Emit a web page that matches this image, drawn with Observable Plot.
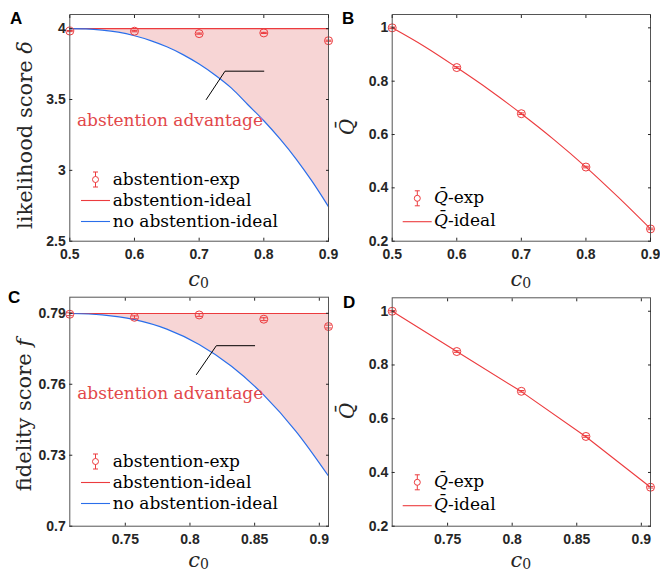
<!DOCTYPE html>
<html><head><meta charset="utf-8">
<script src="https://cdn.jsdelivr.net/npm/d3@7"></script>
<script src="https://cdn.jsdelivr.net/npm/@observablehq/plot@0.6"></script>
<style>
html,body{margin:0;padding:0;background:#fff;}
#root{position:relative;width:660px;height:573px;overflow:hidden;background:#fff;}
.panel{position:absolute;}
#overlay{position:absolute;left:0;top:0;pointer-events:none;}
</style></head><body><div id="root"></div>
<script>
// ---------- data ----------
// Panel A: likelihood score
const c0A = [0.5, 0.6, 0.7, 0.8, 0.9];
const deltaExp = [3.983, 3.982, 3.965, 3.970, 3.915];
const deltaErr = [0.004, 0.004, 0.004, 0.004, 0.004];
const deltaIdeal = 4.0;
const deltaCurveX = [0.5, 0.525, 0.55, 0.575, 0.6, 0.625, 0.65, 0.675, 0.7, 0.725, 0.75, 0.775, 0.8, 0.825, 0.85, 0.875, 0.9];
const deltaNoAbst = [4.0, 3.998, 3.99, 3.975, 3.95, 3.916, 3.872, 3.817, 3.75, 3.671, 3.58, 3.465, 3.35, 3.222, 3.08, 2.92, 2.744];
const annotAX = [0.711, 0.74, 0.8];
const annotAY = [3.5, 3.7, 3.7];
const advLabelA = {x: 0.511, y: 3.354};

// Panel B: Q-bar vs c0
const c0B = [0.5, 0.6, 0.7, 0.8, 0.9];
const qExpB = [1.0, 0.851, 0.678, 0.478, 0.246];
const qErrB = [0.003, 0.003, 0.003, 0.003, 0.003];
const qCurveXB = [0.5, 0.55, 0.6, 0.65, 0.7, 0.75, 0.8, 0.85, 0.9];
const qIdealB = [1.0, 0.93, 0.851, 0.768, 0.678, 0.582, 0.478, 0.365, 0.246];

// Panel C: fidelity score
const c0C = [0.7071, 0.7571, 0.8071, 0.8571, 0.9071];
const fidExp = [0.7896, 0.7883, 0.7893, 0.7875, 0.7844];
const fidErr = [0.0006, 0.0006, 0.0006, 0.0006, 0.0006];
const fidIdeal = 0.7899;
const fidCurveX = [0.7071, 0.7321, 0.7571, 0.7821, 0.8071, 0.8321, 0.8571, 0.8821, 0.9071];
const fidNoAbst = [0.7899, 0.7893, 0.7873, 0.7833, 0.7768, 0.7676, 0.7554, 0.740, 0.7212];
const annotCX = [0.805, 0.8204, 0.85];
const annotCY = [0.7641, 0.7763, 0.7763];
const advLabelC = {x: 0.7128, y: 0.7562};

// Panel D: Q-bar vs c0
const c0D = [0.7071, 0.7571, 0.8071, 0.8571, 0.9071];
const qExpD = [1.0, 0.85, 0.702, 0.534, 0.345];
const qErrD = [0.003, 0.003, 0.003, 0.003, 0.003];
const qIdealD = [1.0, 0.85, 0.701, 0.533, 0.345];

// ticks
const xTicksTop = [0.5, 0.6, 0.7, 0.8, 0.9];
const xTicksBottom = [0.75, 0.8, 0.85, 0.9];
const yTicksA = [2.5, 3, 3.5, 4];
const yTicksC = [0.7, 0.73, 0.76, 0.79];
const yTicksQ = [0.2, 0.4, 0.6, 0.8, 1];

const legendAC = ["abstention-exp", "abstention-ideal", "no abstention-ideal"];
const advText = "abstention advantage";

// ---------- styles ----------
const RED = "#ec3b3e";
const BLUE = "#2a6eea";
const FILL = "#f7d5d5";
const ADV = "#e2474a";
const AX = "#262626";

const zip = (xs, ys) => xs.map((x, i) => ({x, y: ys[i]}));
const zipE = (xs, ys, es) => xs.map((x, i) => ({x, y: ys[i], e: es[i]}));
const fmt = d => String(+(+d).toFixed(4));

const capSymbol = {draw(ctx, size) { const r = Math.sqrt(size / Math.PI); ctx.moveTo(-r, 0); ctx.lineTo(r, 0); }};

function axes(xt, yt) {
  return [
    Plot.frame({stroke: "#555", strokeWidth: 1}),
    Plot.axisX({ticks: xt, anchor: "bottom", tickSize: -3, tickPadding: 10.5, tickFormat: fmt, label: null, stroke: AX, fill: AX}),
    Plot.axisX({ticks: xt, anchor: "top", tickSize: -3, tickFormat: () => "", label: null, stroke: AX}),
    Plot.axisY({ticks: yt, anchor: "left", tickSize: -3, tickPadding: 7, tickFormat: fmt, label: null, stroke: AX, fill: AX}),
    Plot.axisY({ticks: yt, anchor: "right", tickSize: -3, tickFormat: () => "", label: null, stroke: AX})
  ];
}
function expMarks(data) {
  return [
    Plot.ruleX(data, {x: "x", y1: d => d.y - d.e, y2: d => d.y + d.e, stroke: RED, strokeWidth: 1}),
    Plot.dot(data, {x: "x", y: d => d.y - d.e, symbol: capSymbol, r: 3, stroke: RED, strokeWidth: 1}),
    Plot.dot(data, {x: "x", y: d => d.y + d.e, symbol: capSymbol, r: 3, stroke: RED, strokeWidth: 1}),
    Plot.dot(data, {x: "x", y: "y", r: 4, stroke: RED, fill: "none", strokeWidth: 1})
  ];
}
const baseStyle = {fontFamily: "'Liberation Sans', Arial, sans-serif", fontSize: "14px", fontWeight: "bold", color: AX, overflow: "visible", background: "transparent"};

function place(svg, left, top) {
  const wrap = document.createElement("div");
  wrap.className = "panel";
  wrap.style.left = left + "px";
  wrap.style.top = top + "px";
  wrap.appendChild(svg);
  document.getElementById("root").appendChild(wrap);
}

// ---------- Panel A ----------
const curveA = zip(deltaCurveX, deltaNoAbst);
const plotA = Plot.plot({
  width: 330, height: 290,
  marginLeft: 69.3, marginRight: 2, marginTop: 14, marginBottom: 49.3,
  style: baseStyle,
  x: {domain: [0.5, 0.9]},
  y: {domain: [2.5, 4.1]},
  marks: [
    Plot.areaY(curveA, {x: "x", y1: () => deltaIdeal, y2: "y", fill: FILL, curve: "monotone-x"}),
    Plot.line(curveA, {x: "x", y: () => deltaIdeal, stroke: RED, strokeWidth: 1.1}),
    Plot.line(curveA, {x: "x", y: "y", stroke: BLUE, strokeWidth: 1.2, curve: "monotone-x"}),
    Plot.line(zip(annotAX, annotAY), {x: "x", y: "y", stroke: "#000", strokeWidth: 1}),
    Plot.text([advLabelA], {x: "x", y: "y", text: () => advText, textAnchor: "start", fill: ADV, fontFamily: "'DejaVu Serif', serif", fontWeight: "normal", fontSize: 17}),
    ...expMarks(zipE(c0A, deltaExp, deltaErr)),
    ...axes(xTicksTop, yTicksA)
  ]
});
place(plotA, 0, 0);

// ---------- Panel B ----------
const plotB = Plot.plot({
  width: 330, height: 290,
  marginLeft: 61.7, marginRight: 10, marginTop: 14, marginBottom: 49.3,
  style: baseStyle,
  x: {domain: [0.5, 0.9]},
  y: {domain: [0.2, 1.05]},
  marks: [
    Plot.line(zip(qCurveXB, qIdealB), {x: "x", y: "y", stroke: RED, strokeWidth: 1.1, curve: "monotone-x"}),
    ...expMarks(zipE(c0B, qExpB, qErrB)),
    ...axes(xTicksTop, yTicksQ)
  ]
});
place(plotB, 330, 0);

// ---------- Panel C ----------
const curveC = zip(fidCurveX, fidNoAbst);
const plotC = Plot.plot({
  width: 330, height: 290,
  marginLeft: 69.3, marginRight: 2, marginTop: 13.7, marginBottom: 47.3,
  style: baseStyle,
  x: {domain: [0.7071, 0.9071]},
  y: {domain: [0.7, 0.7968]},
  marks: [
    Plot.areaY(curveC, {x: "x", y1: () => fidIdeal, y2: "y", fill: FILL, curve: "monotone-x"}),
    Plot.line(curveC, {x: "x", y: () => fidIdeal, stroke: RED, strokeWidth: 1.1}),
    Plot.line(curveC, {x: "x", y: "y", stroke: BLUE, strokeWidth: 1.2, curve: "monotone-x"}),
    Plot.line(zip(annotCX, annotCY), {x: "x", y: "y", stroke: "#000", strokeWidth: 1}),
    Plot.text([advLabelC], {x: "x", y: "y", text: () => advText, textAnchor: "start", fill: ADV, fontFamily: "'DejaVu Serif', serif", fontWeight: "normal", fontSize: 17}),
    ...expMarks(zipE(c0C, fidExp, fidErr)),
    ...axes(xTicksBottom, yTicksC)
  ]
});
place(plotC, 0, 283);

// ---------- Panel D ----------
const plotD = Plot.plot({
  width: 330, height: 290,
  marginLeft: 61.7, marginRight: 10, marginTop: 14.3, marginBottom: 47.3,
  style: baseStyle,
  x: {domain: [0.7071, 0.9071]},
  y: {domain: [0.2, 1.05]},
  marks: [
    Plot.line(zip(c0D, qIdealD), {x: "x", y: "y", stroke: RED, strokeWidth: 1.1}),
    ...expMarks(zipE(c0D, qExpD, qErrD)),
    ...axes(xTicksBottom, yTicksQ)
  ]
});
place(plotD, 330, 283);

// ---------- overlay: panel letters, axis titles, legends ----------
const NS = "http://www.w3.org/2000/svg";
const ov = document.createElementNS(NS, "svg");
ov.setAttribute("id", "overlay");
ov.setAttribute("width", 660);
ov.setAttribute("height", 573);
const serif = "'DejaVu Serif', serif";
const sans = "'Liberation Sans', Arial, sans-serif";

function legendExp(cx, cy) {
  return `<line x1="${cx}" x2="${cx}" y1="${cy-7.5}" y2="${cy+7.5}" stroke="${RED}"/>
  <line x1="${cx-2.5}" x2="${cx+2.5}" y1="${cy-7.5}" y2="${cy-7.5}" stroke="${RED}"/>
  <line x1="${cx-2.5}" x2="${cx+2.5}" y1="${cy+7.5}" y2="${cy+7.5}" stroke="${RED}"/>
  <circle cx="${cx}" cy="${cy}" r="3" fill="white" stroke="${RED}"/>`;
}
function legendLine(x1, x2, y, col) {
  return `<line x1="${x1}" x2="${x2}" y1="${y}" y2="${y}" stroke="${col}" stroke-width="1.1"/>`;
}
function legendAC_(dy) {
  return legendExp(95.5, 179.5 + dy) +
    `<text x="112.7" y="${184.5+dy}" font-family="${serif}" font-size="17" fill="#000">${legendAC[0]}</text>` +
    legendLine(81, 110, 200.5 + dy, RED) +
    `<text x="112.7" y="${206+dy}" font-family="${serif}" font-size="17" fill="#000">${legendAC[1]}</text>` +
    legendLine(81, 110, 221.5 + dy, BLUE) +
    `<text x="112.7" y="${227+dy}" font-family="${serif}" font-size="17" fill="#000">${legendAC[2]}</text>`;
}
function legendQ(dy) {
  return legendExp(417.3, 198.3 + dy) +
    `<text x="434" y="${203+dy}" font-family="${serif}" font-size="17" fill="#000"><tspan font-style="italic">Q̄</tspan>-exp</text>` +
    legendLine(402.7, 431.7, 221.7 + dy, RED) +
    `<text x="434" y="${226+dy}" font-family="${serif}" font-size="17" fill="#000"><tspan font-style="italic">Q̄</tspan>-ideal</text>`;
}
function c0Label(cx, y) {
  return `<text x="${cx}" y="${y}" text-anchor="middle" font-family="${serif}" font-size="21" fill="#262626"><tspan font-style="italic">c</tspan><tspan font-size="14" dy="1.5">0</tspan></text>`;
}
ov.innerHTML = `
  <text x="10" y="24" font-family="${sans}" font-weight="bold" font-size="17" fill="#000">A</text>
  <text x="342" y="24" font-family="${sans}" font-weight="bold" font-size="17" fill="#000">B</text>
  <text x="8" y="303" font-family="${sans}" font-weight="bold" font-size="17" fill="#000">C</text>
  <text x="343" y="308" font-family="${sans}" font-weight="bold" font-size="17" fill="#000">D</text>
  <text transform="translate(31.5,135) rotate(-90)" text-anchor="middle" font-family="${serif}" font-size="21" fill="#262626">likelihood score <tspan font-style="italic">δ</tspan></text>
  <text transform="translate(31,415) rotate(-90)" text-anchor="middle" font-family="${serif}" font-size="21" fill="#262626">fidelity score <tspan font-style="italic">f</tspan></text>
  <text transform="translate(354,127) rotate(-90)" text-anchor="middle" font-family="${serif}" font-size="20" font-style="italic" fill="#262626">Q̄</text>
  <text transform="translate(354,411) rotate(-90)" text-anchor="middle" font-family="${serif}" font-size="20" font-style="italic" fill="#262626">Q̄</text>
  ${c0Label(198.7, 286)}
  ${c0Label(520.8, 286)}
  ${c0Label(198.7, 567)}
  ${c0Label(520.8, 567)}
  ${legendAC_(0)}
  ${legendAC_(282)}
  ${legendQ(0)}
  ${legendQ(284)}
`;
document.getElementById("root").appendChild(ov);
</script></body></html>
